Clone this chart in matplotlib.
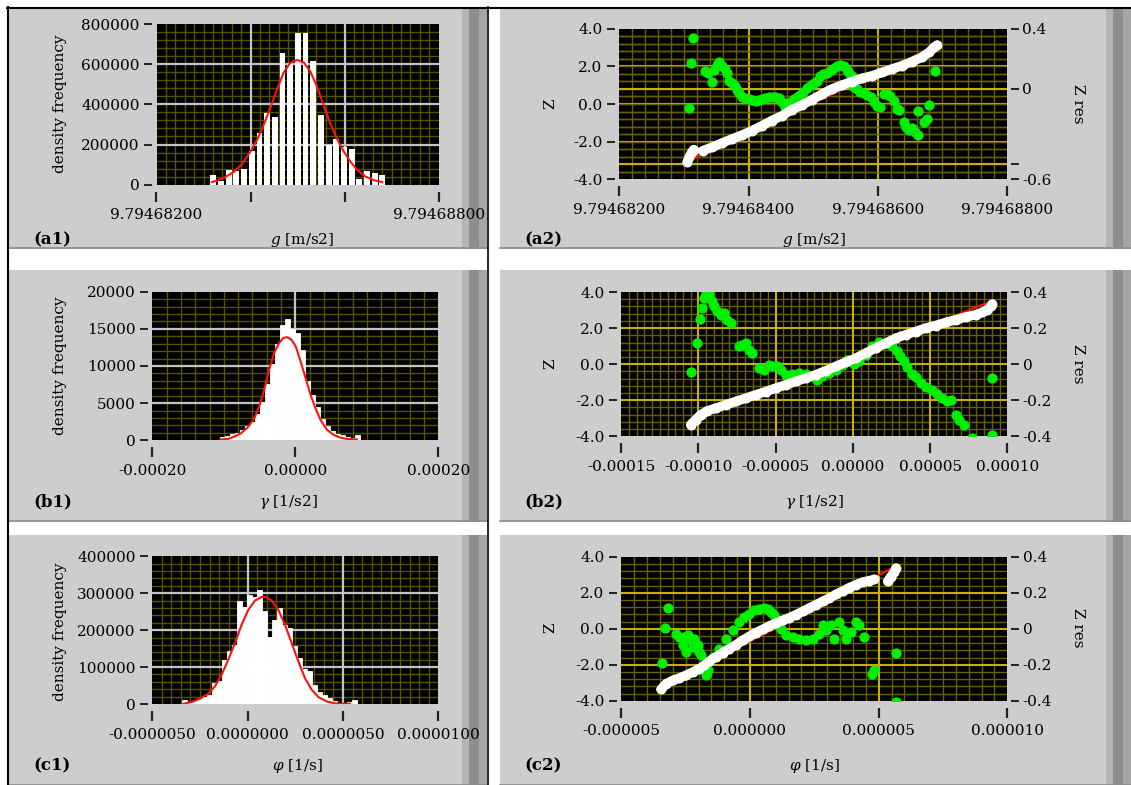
import numpy as np
import matplotlib
matplotlib.use("Agg")
import matplotlib.pyplot as plt
from matplotlib.patches import Rectangle
from matplotlib.ticker import FixedLocator, FixedFormatter, MultipleLocator

plt.rcParams['font.family'] = ['DejaVu Serif']
plt.rcParams['mathtext.fontset'] = 'dejavuserif'

# ---------------------------------------------------------------- data
# (a1) density histogram of g with normal fit
g_bin_start = 9.7946831462
g_bin_width = 1.634e-7
g_density = [48000, 20000, 75000, 66000, 78000, 168000, 255000, 355000, 337000,
             657000, 600000, 755000, 755000, 617000, 348000, 200000, 226000,
             190000, 176000, 28000, 66000, 56000, 48000]
g_fit_x = [9.79468318, 9.79468343, 9.79468364, 9.79468382, 9.79468400, 9.79468414,
           9.79468428, 9.79468442, 9.79468456, 9.79468470, 9.79468484, 9.79468499,
           9.79468513, 9.79468527, 9.79468541, 9.79468555, 9.79468569, 9.79468583,
           9.79468598, 9.79468612, 9.79468626, 9.79468644, 9.79468661, 9.79468680]
g_fit_y = [13000, 33000, 63000, 103000, 166000, 224000, 299000, 382000, 473000,
           556000, 606000, 621000, 609000, 564000, 490000, 398000, 307000, 232000,
           166000, 116000, 75000, 41000, 23000, 13000]

# (b1) density histogram of gamma with normal fit
gamma_bin_start = -1.06e-4
gamma_bin_width = 7.0e-6
gamma_density = [500, 630, 800, 1000, 1400, 1900, 2500, 3500, 5200, 7600, 10300,
                 13000, 15500, 16300, 15000, 14400, 12200, 8000, 6100, 4500, 2800,
                 1900, 1200, 850, 650, 400, 350, 650]
gamma_fit_x = [-1.046e-4, -0.944e-4, -0.852e-4, -0.759e-4, -0.667e-4, -0.574e-4,
               -0.505e-4, -0.435e-4, -0.366e-4, -0.296e-4, -0.227e-4, -0.167e-4,
               -0.111e-4, -0.056e-4, 0.005e-4, 0.074e-4, 0.144e-4, 0.213e-4,
               0.282e-4, 0.352e-4, 0.444e-4, 0.537e-4, 0.630e-4, 0.722e-4, 0.861e-4]
gamma_fit_y = [120, 180, 500, 950, 1710, 2970, 4550, 6800, 9500, 11760, 13100,
               13780, 13870, 13560, 12660, 10630, 8380, 6130, 4320, 2750, 1400,
               720, 360, 180, 120]

# (c1) density histogram of phi with normal fit
phi_bin_start = -3.461e-6
phi_bin_width = 2.622e-7
phi_density = [10000, 5000, 9000, 14000, 18000, 25000, 57000, 61000, 120000, 143000,
               161000, 278000, 264000, 296000, 289000, 310000, 251000, 181000, 228000,
               260000, 215000, 206000, 156000, 125000, 96000, 90000, 52000, 32000,
               25000, 16000, 9000, 4000, 3000, 5000, 11000]
phi_fit_x = [-3.374e-6, -2.937e-6, -2.500e-6, -2.063e-6, -1.713e-6, -1.363e-6,
             -1.014e-6, -0.664e-6, -0.315e-6, 0.035e-6, 0.385e-6, 0.734e-6, 0.996e-6,
             1.259e-6, 1.608e-6, 1.958e-6, 2.307e-6, 2.657e-6, 3.007e-6, 3.356e-6,
             3.706e-6, 4.143e-6, 4.580e-6, 5.017e-6, 5.366e-6]
phi_fit_y = [500, 5400, 14400, 28000, 47900, 79500, 120000, 165000, 215000, 255000,
             280000, 290000, 289000, 280000, 255000, 215000, 165000, 116000, 70000,
             39000, 19000, 7000, 1800, 500, 500]

# (a2) normal probability plot of g, fit line and residuals
g_qq_tail_x = [9.79468305, 9.79468308, 9.79468312, 9.79468315]
g_qq_tail_z = [-3.10, -2.83, -2.57, -2.42]
g_qq_x = [9.79468329, 9.79468343, 9.79468359, 9.79468374, 9.79468390, 9.79468405,
          9.79468421, 9.79468436, 9.79468452, 9.79468467, 9.79468483, 9.79468498,
          9.79468514, 9.79468529, 9.79468545, 9.79468560, 9.79468576, 9.79468591,
          9.79468607, 9.79468622, 9.79468638, 9.79468653, 9.79468668, 9.79468679,
          9.79468687, 9.79468692]
g_qq_z = [-2.48, -2.30, -2.07, -1.86, -1.65, -1.42, -1.15, -0.88, -0.62, -0.30, -0.05,
          0.23, 0.53, 0.80, 1.01, 1.19, 1.36, 1.50, 1.68, 1.86, 2.04, 2.25, 2.48, 2.74,
          3.01, 3.13]
g_line_x = [9.79468305, 9.79468692]
g_line_z = [-3.04, 3.10]
g_res_x = [9.79468314, 9.79468311, 9.79468308, 9.79468332, 9.79468338, 9.79468343,
           9.79468346, 9.79468351, 9.79468355, 9.79468359, 9.79468364, 9.79468367,
           9.79468370, 9.79468374, 9.79468379, 9.79468382, 9.79468386, 9.79468390,
           9.79468395, 9.79468400, 9.79468405, 9.79468411, 9.79468416, 9.79468421,
           9.79468426, 9.79468431, 9.79468436, 9.79468441, 9.79468447, 9.79468452,
           9.79468456, 9.79468460, 9.79468465, 9.79468470, 9.79468475, 9.79468480,
           9.79468485, 9.79468490, 9.79468496, 9.79468501, 9.79468506, 9.79468511,
           9.79468516, 9.79468521, 9.79468527, 9.79468532, 9.79468537, 9.79468542,
           9.79468547, 9.79468552, 9.79468556, 9.79468560, 9.79468563, 9.79468568,
           9.79468573, 9.79468578, 9.79468583, 9.79468589, 9.79468594, 9.79468599,
           9.79468604, 9.79468609, 9.79468614, 9.79468619, 9.79468625, 9.79468630,
           9.79468633, 9.79468640, 9.79468643, 9.79468648, 9.79468653, 9.79468658,
           9.79468663, 9.79468662, 9.79468671, 9.79468676, 9.79468679, 9.79468688]
g_res = [0.335, 0.172, -0.125, 0.116, 0.105, 0.049, 0.127, 0.161, 0.177, 0.150, 0.132,
         0.105, 0.056, 0.038, 0.020, -0.007, -0.029, -0.051, -0.063, -0.069, -0.074,
         -0.078, -0.074, -0.069, -0.063, -0.056, -0.051, -0.056, -0.063, -0.085, -0.118,
         -0.096, -0.085, -0.069, -0.056, -0.040, -0.018, 0.004, 0.027, 0.038, 0.056,
         0.083, 0.101, 0.105, 0.127, 0.139, 0.154, 0.161, 0.150, 0.127, 0.105, 0.083,
         0.016, -0.002, -0.018, -0.029, -0.040, -0.056, -0.085, -0.114, -0.118, -0.034,
         -0.034, -0.047, -0.078, -0.130, -0.141, -0.219, -0.253, -0.275, -0.257, -0.286,
         -0.308, -0.145, -0.219, -0.197, -0.107, 0.121]

# (b2) normal probability plot of gamma
gamma_qq_x = [-1.0514e-4, -1.0190e-4, -0.9866e-4, -0.9435e-4, -0.8895e-4, -0.8247e-4,
              -0.7600e-4, -0.6952e-4, -0.6304e-4, -0.5657e-4, -0.5009e-4, -0.4361e-4,
              -0.3713e-4, -0.3066e-4, -0.2418e-4, -0.1770e-4, -0.1123e-4, -0.0475e-4,
              0.0173e-4, 0.0820e-4, 0.1468e-4, 0.2116e-4, 0.2764e-4, 0.3411e-4,
              0.4059e-4, 0.4707e-4, 0.5354e-4, 0.6002e-4, 0.6650e-4, 0.7297e-4,
              0.7945e-4, 0.8377e-4, 0.8701e-4, 0.8917e-4, 0.9025e-4]
gamma_qq_z = [-3.36, -3.09, -2.81, -2.59, -2.44, -2.26, -2.07, -1.89, -1.70, -1.52,
              -1.33, -1.15, -0.96, -0.78, -0.59, -0.37, -0.13, 0.11, 0.33, 0.61, 0.89,
              1.16, 1.44, 1.63, 1.81, 2.00, 2.14, 2.31, 2.46, 2.61, 2.74, 2.87, 3.01,
              3.20, 3.33]
gamma_line_x = [-1.0406e-4, 0.9025e-4]
gamma_line_z = [-3.14, 3.51]
gamma_res_x = [-1.0471e-4, -1.0083e-4, -0.9932e-4, -0.9759e-4, -0.9651e-4, -0.9500e-4,
               -0.9327e-4, -0.9154e-4, -0.9003e-4, -0.8787e-4, -0.8571e-4, -0.8355e-4,
               -0.8139e-4, -0.7924e-4, -0.7384e-4, -0.7168e-4, -0.6952e-4, -0.6736e-4,
               -0.6520e-4, -0.6088e-4, -0.5764e-4, -0.5441e-4, -0.5225e-4, -0.4901e-4,
               -0.4685e-4, -0.4361e-4, -0.3929e-4, -0.3498e-4, -0.3066e-4, -0.2634e-4,
               -0.2310e-4, -0.1986e-4, -0.1554e-4, -0.1123e-4, -0.0691e-4, -0.0367e-4,
               0.0065e-4, 0.0389e-4, 0.0820e-4, 0.1252e-4, 0.1684e-4, 0.2116e-4,
               0.2548e-4, 0.2871e-4, 0.3023e-4, 0.3303e-4, 0.3519e-4, 0.3843e-4,
               0.4059e-4, 0.4383e-4, 0.4707e-4, 0.5138e-4, 0.5462e-4, 0.5786e-4,
               0.6110e-4, 0.6326e-4, 0.6650e-4, 0.6866e-4, 0.7189e-4, 0.7729e-4,
               0.8981e-4, 0.9025e-4]
gamma_res = [-0.046, 0.120, 0.251, 0.311, 0.366, 0.394, 0.388, 0.348, 0.320, 0.292,
             0.274, 0.283, 0.246, 0.227, 0.098, 0.107, 0.116, 0.079, 0.061, -0.022,
             -0.031, -0.004, -0.013, -0.013, -0.031, -0.059, -0.055, -0.050, -0.055,
             -0.068, -0.087, -0.068, -0.050, -0.031, -0.007, 0.024, 0.000, 0.018, 0.052,
             0.098, 0.122, 0.116, 0.098, 0.074, 0.043, 0.018, -0.018, -0.055, -0.074,
             -0.102, -0.124, -0.142, -0.166, -0.189, -0.207, -0.198, -0.281, -0.309,
             -0.336, -0.407, -0.078, -0.392]

# (c2) normal probability plot of phi
phi_qq_x = [-3.458e-6, -3.263e-6, -3.004e-6, -2.745e-6, -2.486e-6, -2.227e-6, -1.968e-6,
            -1.774e-6, -1.580e-6, -1.321e-6, -1.062e-6, -0.803e-6, -0.544e-6, -0.285e-6,
            -0.026e-6, 0.233e-6, 0.492e-6, 0.751e-6, 1.010e-6, 1.269e-6, 1.528e-6,
            1.787e-6, 2.046e-6, 2.305e-6, 2.564e-6, 2.823e-6, 3.082e-6, 3.341e-6,
            3.600e-6, 3.859e-6, 4.118e-6, 4.377e-6, 4.636e-6, 4.830e-6]
phi_qq_z = [-3.37, -3.06, -2.87, -2.74, -2.59, -2.41, -2.22, -2.04, -1.81, -1.57, -1.33,
            -1.11, -0.89, -0.65, -0.43, -0.22, -0.04, 0.15, 0.31, 0.46, 0.61, 0.78, 0.96,
            1.15, 1.33, 1.52, 1.70, 1.91, 2.09, 2.28, 2.44, 2.59, 2.67, 2.74]
phi_qq_tail_x = [5.348e-6, 5.478e-6, 5.607e-6, 5.672e-6]
phi_qq_tail_z = [2.63, 2.90, 3.15, 3.37]
phi_line_x = [-3.458e-6, 5.478e-6]
phi_line_z = [-3.24, 3.33]
phi_res_x = [-3.199e-6, -3.289e-6, -3.419e-6, -2.875e-6, -2.745e-6, -2.551e-6, -2.422e-6,
             -2.292e-6, -2.163e-6, -2.616e-6, -2.486e-6, -2.227e-6, -2.033e-6, -1.968e-6,
             -1.904e-6, -1.709e-6, -1.645e-6, -1.450e-6, -1.191e-6, -0.932e-6, -0.673e-6,
             -0.414e-6, -0.220e-6, -0.026e-6, 0.168e-6, 0.363e-6, 0.557e-6, 0.686e-6,
             0.816e-6, 0.945e-6, 1.075e-6, 1.204e-6, 1.399e-6, 1.658e-6, 1.917e-6,
             2.176e-6, 2.435e-6, 2.694e-6, 2.823e-6, 2.953e-6, 3.147e-6, 3.276e-6,
             3.471e-6, 3.600e-6, 3.730e-6, 3.924e-6, 4.118e-6, 4.248e-6, 4.442e-6,
             4.804e-6, 4.740e-6, 5.672e-6, 5.672e-6]
phi_res = [0.115, 0.004, -0.189, -0.028, -0.046, -0.046, -0.037, -0.065, -0.056, -0.093,
           -0.130, -0.102, -0.093, -0.130, -0.148, -0.259, -0.231, -0.157, -0.111, -0.056,
           -0.009, 0.037, 0.065, 0.083, 0.102, 0.111, 0.115, 0.111, 0.093, 0.074, 0.046,
           -0.004, -0.037, -0.046, -0.056, -0.065, -0.056, -0.028, 0.019, -0.009, 0.019,
           -0.056, 0.037, -0.009, -0.056, -0.019, 0.037, 0.019, -0.046, -0.231, -0.250,
           -0.133, -0.407]

# tick labels
g_ticks = [9.794682, 9.794684, 9.794686, 9.794688]
g_tick_labels = ["9.79468200", "9.79468400", "9.79468600", "9.79468800"]
gamma_hist_ticks = [-2e-4, 0.0, 2e-4]
gamma_hist_labels = ["-0.00020", "0.00000", "0.00020"]
gamma_qq_ticks = [-1.5e-4, -1e-4, -5e-5, 0.0, 5e-5, 1e-4]
gamma_qq_labels = ["-0.00015", "-0.00010", "-0.00005", "0.00000", "0.00005", "0.00010"]
phi_ticks = [-5e-6, 0.0, 5e-6, 1e-5]
phi_hist_labels = ["-0.0000050", "0.0000000", "0.0000050", "0.0000100"]
phi_qq_labels = ["-0.000005", "0.000000", "0.000005", "0.000010"]
z_ticks = [-4, -2, 0, 2, 4]
z_labels = ["-4.0", "-2.0", "0.0", "2.0", "4.0"]

# ---------------------------------------------------------------- figure
W, H = 1131, 785
fig = plt.figure(figsize=(W / 100, H / 100), dpi=100)
fig.patch.set_facecolor('white')

bg = fig.add_axes([0, 0, 1, 1])
bg.set_xlim(0, W)
bg.set_ylim(H, 0)
bg.axis('off')
bg.set_zorder(-10)

PANEL = '#cdcdcd'
FS = 11


def panel(x0, y0, x1, y1):
    bg.add_patch(Rectangle((x0, y0), x1 - x0, y1 - y0, fc=PANEL, ec='none'))
    s = x1 - 25
    bg.add_patch(Rectangle((s, y0), 7, y1 - y0, fc='#b4b4b4', ec='none'))
    bg.add_patch(Rectangle((s + 7, y0), 10, y1 - y0, fc='#8e8e8e', ec='none'))
    bg.add_patch(Rectangle((s + 17, y0), 8, y1 - y0, fc='#a6a6a6', ec='none'))
    bg.plot([x0, x1], [y1 - 1, y1 - 1], color='#8c8c8c', lw=1.2)


rows = [(9, 249), (270, 522), (535, 786)]
for (y0, y1) in rows:
    panel(9, y0, 487, y1)
    panel(500, y0, 1131, y1)
bg.plot([7.5, 7.5], [7, H], color='black', lw=1.5)
bg.plot([7, W], [7.5, 7.5], color='black', lw=1.5)
bg.plot([488, 488], [7, H], color='black', lw=1.2)


def px_axes(left, top, right, bottom, **kw):
    return fig.add_axes([left / W, 1 - bottom / H, (right - left) / W, (bottom - top) / H], **kw)


def style(ax, xlim, ylim, xt, xl, xminor, yt, yl, yminor, major_c, minor_c, major_lw):
    ax.set_facecolor('black')
    ax.set_xlim(*xlim)
    ax.set_ylim(*ylim)
    ax.xaxis.set_major_locator(FixedLocator(xt))
    ax.xaxis.set_major_formatter(FixedFormatter(xl))
    ax.xaxis.set_minor_locator(MultipleLocator(xminor))
    ax.yaxis.set_major_locator(FixedLocator(yt))
    ax.yaxis.set_major_formatter(FixedFormatter(yl))
    ax.yaxis.set_minor_locator(MultipleLocator(yminor))
    for s in ax.spines.values():
        s.set_visible(False)
    ax.spines['bottom'].set_position(('outward', 5))
    ax.spines['left'].set_position(('outward', 3))
    ax.tick_params(axis='x', which='major', direction='out', length=7, width=1.6,
                   color='#222222', labelsize=FS, pad=5)
    ax.tick_params(axis='y', which='major', direction='out', length=6, width=1.4,
                   color='#222222', labelsize=FS, pad=3)
    ax.tick_params(which='minor', length=0)
    ax.set_axisbelow(True)
    ax.grid(which='minor', color=minor_c, lw=1.0)
    # major grid lines drawn above the minor grid, below the data
    for v in xt:
        if xlim[0] < v < xlim[1]:
            ax.axvline(v, color=major_c, lw=major_lw, zorder=1)
    for v in yt:
        if ylim[0] < v < ylim[1]:
            ax.axhline(v, color=major_c, lw=major_lw, zorder=1)


HIST_MAJOR, HIST_MINOR = '#c4c4c4', '#545400'
QQ_MAJOR, QQ_MINOR = '#c8b000', '#686000'


def histogram(rect, xlim, xt, xl, xminor, ylim, yt, yminor, start, width, dens,
              fx, fy, bar_frac):
    ax = px_axes(*rect)
    style(ax, xlim, ylim, xt, xl, xminor, yt, [str(v) for v in yt], yminor,
          HIST_MAJOR, HIST_MINOR, 1.6)
    edges = start + width * np.arange(len(dens))
    seam = 0.6 if bar_frac >= 1.0 else 0.0
    ax.bar(edges, dens, width=width * bar_frac, align='edge', color='white',
           edgecolor='white', linewidth=seam, zorder=2)
    ax.plot(fx, fy, color='#ff1010', lw=1.5, zorder=3)
    return ax


# (a1)
histogram((156.5, 24, 438.7, 184.7), (9.794682, 9.794688), g_ticks,
          [g_tick_labels[0], "", "", g_tick_labels[3]], 2e-7,
          (0, 800000), [0, 200000, 400000, 600000, 800000], 40000,
          g_bin_start, g_bin_width, g_density, g_fit_x, g_fit_y, 0.76)
# (b1)
histogram((152.3, 291.7, 438.3, 440.3), (-2e-4, 2e-4), gamma_hist_ticks,
          gamma_hist_labels, 2e-5, (0, 20000), [0, 5000, 10000, 15000, 20000], 1000,
          gamma_bin_start, gamma_bin_width, gamma_density, gamma_fit_x, gamma_fit_y, 1.0)
# (c1)
histogram((152.3, 556.3, 438.3, 704.0), (-5e-6, 1e-5), phi_ticks, phi_hist_labels,
          5e-7, (0, 400000), [0, 100000, 200000, 300000, 400000], 20000,
          phi_bin_start, phi_bin_width, phi_density, phi_fit_x, phi_fit_y, 1.0)


def qq(rect, xlim, xt, xl, xminor, rlim, rt, rl, rminor_grid, segments, line,
       res):
    ax = px_axes(*rect)
    style(ax, xlim, (-4, 4), xt, xl, xminor, z_ticks, z_labels, 0.4,
          QQ_MAJOR, QQ_MINOR, 1.5)
    axr = ax.twinx()
    axr.set_ylim(*rlim)
    axr.yaxis.set_major_locator(FixedLocator(rt))
    axr.yaxis.set_major_formatter(FixedFormatter(rl))
    for s in axr.spines.values():
        s.set_visible(False)
    axr.spines['right'].set_position(('outward', 3))
    axr.tick_params(axis='y', which='major', direction='out', length=6, width=1.4,
                    color='#222222', labelsize=FS, pad=2)
    axr.tick_params(which='minor', length=0)
    if rminor_grid:
        axr.yaxis.set_minor_locator(MultipleLocator(rminor_grid))
        axr.set_axisbelow(True)
        axr.grid(which='minor', axis='y', color=QQ_MINOR, lw=1.0)
        for v in rt:
            if rlim[0] < v < rlim[1]:
                axr.axhline(v, color=QQ_MAJOR, lw=1.5, zorder=1)
    rx, ry = res
    axr.plot(rx, ry, 'o', color='#00ee00', ms=7.4, mec='none', zorder=3)

    top = px_axes(*rect, sharex=ax, sharey=ax)
    top.patch.set_visible(False)
    top.axis('off')
    top.plot(line[0], line[1], color='#ff1010', lw=1.5, zorder=2)
    for sx, sz in segments:
        top.plot(sx, sz, '-o', color='white', lw=6.8, ms=7.2, mec='none',
                 solid_capstyle='round', zorder=3)
    return ax


# (a2)
qq((619.3, 28.7, 1007.0, 179.3), (9.794682, 9.794688), g_ticks, g_tick_labels, 2e-7,
   (-0.6, 0.4), [-0.6, -0.5, 0.0, 0.4], ["-0.6", "", "0", "0.4"], 0.05,
   [(g_qq_tail_x, g_qq_tail_z), (g_qq_x, g_qq_z)], (g_line_x, g_line_z),
   (g_res_x, g_res))
# (b2)
qq((621.3, 292.0, 1007.3, 436.3), (-1.5e-4, 1e-4), gamma_qq_ticks, gamma_qq_labels,
   5e-6, (-0.4, 0.4), [-0.4, -0.2, 0.0, 0.2, 0.4], ["-0.4", "-0.2", "0", "0.2", "0.4"],
   None, [(gamma_qq_x, gamma_qq_z)], (gamma_line_x, gamma_line_z),
   (gamma_res_x, gamma_res))
# (c2)
qq((621.3, 556.7, 1007.3, 700.7), (-5e-6, 1e-5), phi_ticks, phi_qq_labels, 5e-7,
   (-0.4, 0.4), [-0.4, -0.2, 0.0, 0.2, 0.4], ["-0.4", "-0.2", "0", "0.2", "0.4"],
   None, [(phi_qq_x, phi_qq_z), (phi_qq_tail_x, phi_qq_tail_z)],
   (phi_line_x, phi_line_z), (phi_res_x, phi_res))

# ---------------------------------------------------------------- labels
xlabels = [r"$g$ [m/s2]", r"$\gamma$ [1/s2]", r"$\varphi$ [1/s]"]
tags_left = ["(a1)", "(b1)", "(c1)"]
tags_right = ["(a2)", "(b2)", "(c2)"]
label_y = [240, 502, 766]
hist_center_y = [104, 366, 632]
left_label_x = [302, 288, 297]
qq_center_y = [104, 364, 628]

for i in range(3):
    bg.text(33, label_y[i], tags_left[i], fontsize=12, fontweight='bold',
            ha='left', va='center')
    bg.text(left_label_x[i], label_y[i], xlabels[i], fontsize=FS, ha='center',
            va='center')
    bg.text(60, hist_center_y[i], "density frequency", fontsize=FS, rotation=90,
            ha='center', va='center')
    bg.text(524, label_y[i], tags_right[i], fontsize=12, fontweight='bold',
            ha='left', va='center')
    bg.text(814, label_y[i], xlabels[i], fontsize=FS, ha='center', va='center')
    bg.text(550, qq_center_y[i], "Z", fontsize=FS, rotation=90, ha='center',
            va='center')
    bg.text(1078, qq_center_y[i], "Z res", fontsize=FS, rotation=-90, ha='center',
            va='center')

fig.savefig("out.png", dpi=100, facecolor='white')
